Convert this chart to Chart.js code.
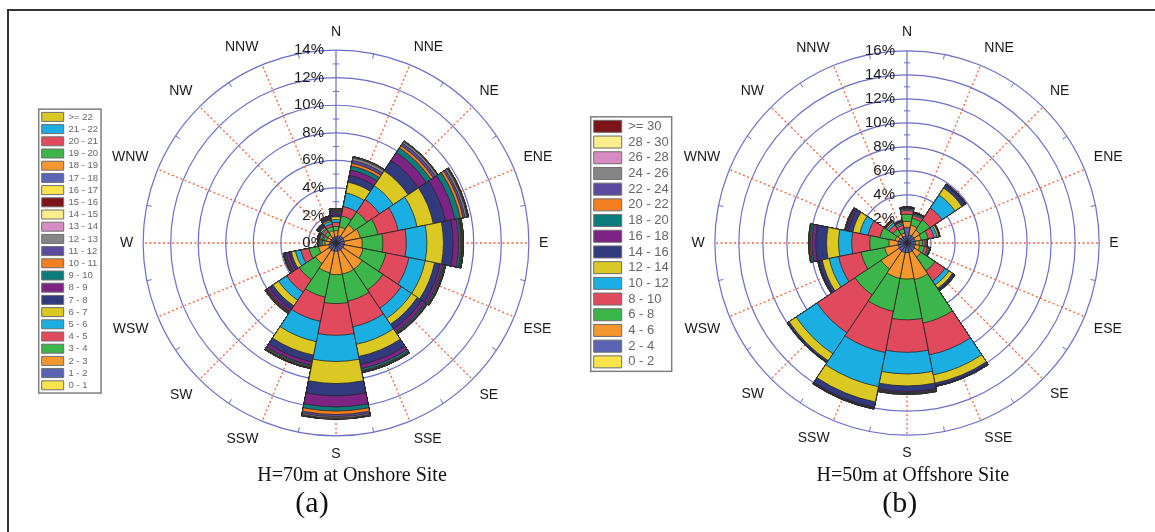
<!DOCTYPE html>
<html>
<head>
<meta charset="utf-8">
<script src="https://cdn.jsdelivr.net/npm/chart.js@4.4.1/dist/chart.umd.min.js"></script>
<style>
  body { margin: 0; background: #fff; }
  #frame { position: absolute; left: 7px; top: 9px; width: 1148px; height: 523px;
           border-top: 2px solid #333; border-left: 2px solid #333; }
  canvas { position: absolute; top: 0; }
  #onshore { left: 0; }
  #offshore { left: 578px; }
</style>
</head>
<body>
<div id="frame"></div>
<canvas id="onshore" width="578" height="532"></canvas>
<canvas id="offshore" width="577" height="532"></canvas>
<script>
// Wind directions (clockwise from north)
var directions = ['N', 'NNE', 'NE', 'ENE', 'E', 'ESE', 'SE', 'SSE', 'S', 'SSW', 'SW', 'WSW', 'W', 'WNW', 'NW', 'NNW'];

// (a) H=70m onshore: frequency (%) of each speed bin, one value per direction
var onshoreBins = ['0 - 1', '1 - 2', '2 - 3', '3 - 4', '4 - 5', '5 - 6', '6 - 7', '7 - 8', '8 - 9', '9 - 10',
  '10 - 11', '11 - 12', '12 - 13', '13 - 14', '14 - 15', '15 - 16', '16 - 17', '17 - 18', '18 - 19',
  '19 - 20', '20 - 21', '21 - 22', '>= 22'];
var onshoreFreq = [
  [0.03, 0.05, 0.05, 0.05, 0.05, 0.05, 0.05, 0.05, 0.05, 0.05, 0.05, 0.04, 0.03, 0.03, 0.03, 0.03],
  [0.42, 0.50, 0.55, 0.55, 0.55, 0.55, 0.55, 0.55, 0.55, 0.55, 0.55, 0.51, 0.42, 0.37, 0.37, 0.42],
  [0.45, 0.65, 1.00, 1.20, 1.30, 1.40, 1.70, 1.70, 1.70, 1.60, 1.20, 0.75, 0.35, 0.30, 0.30, 0.45],
  [0.30, 0.80, 1.10, 1.30, 1.50, 1.70, 1.80, 2.00, 2.10, 1.80, 1.40, 0.70, 0.20, 0.20, 0.30, 0.30],
  [0.30, 0.70, 1.10, 1.50, 1.70, 1.70, 1.60, 1.90, 2.30, 1.80, 1.10, 0.60, 0.10, 0.10, 0.20, 0.20],
  [0.20, 1.00, 1.20, 1.40, 1.50, 1.20, 0.90, 1.30, 1.90, 1.50, 0.70, 0.40, 0.10, 0.10, 0.10, 0.20],
  [0.20, 0.80, 1.30, 1.20, 1.20, 0.70, 0.50, 0.90, 1.60, 1.00, 0.50, 0.30, 0.05, 0.10, 0.10, 0.10],
  [0.15, 0.50, 0.90, 0.90, 0.70, 0.40, 0.40, 0.60, 0.90, 0.50, 0.30, 0.20, 0.02, 0.05, 0.10, 0.10],
  [0.15, 0.40, 0.70, 0.70, 0.40, 0.20, 0.25, 0.30, 0.80, 0.25, 0.20, 0.20, 0.01, 0.05, 0.08, 0.08],
  [0.10, 0.30, 0.40, 0.40, 0.15, 0.10, 0.10, 0.15, 0.30, 0.10, 0.05, 0.08, 0.01, 0.03, 0.04, 0.05],
  [0.05, 0.20, 0.20, 0.20, 0.05, 0.05, 0.05, 0.05, 0.25, 0.07, 0.05, 0.05, 0.01, 0.02, 0.03, 0.03],
  [0.05, 0.20, 0.20, 0.15, 0.05, 0.03, 0.03, 0.05, 0.15, 0.04, 0.03, 0.03, 0.00, 0.02, 0.02, 0.02],
  [0.05, 0.20, 0.15, 0.15, 0.05, 0.02, 0.02, 0.03, 0.10, 0.03, 0.03, 0.02, 0.01, 0.02, 0.02, 0.02],
  [0.02, 0.04, 0.02, 0.04, 0.02, 0.01, 0.01, 0.01, 0.03, 0.01, 0.01, 0.01, 0.00, 0.01, 0.01, 0.01],
  [0.01, 0.02, 0.01, 0.02, 0.01, 0.01, 0.00, 0.01, 0.02, 0.00, 0.01, 0.01, 0.00, 0.00, 0.00, 0.01],
  [0.01, 0.01, 0.01, 0.02, 0.01, 0.00, 0.01, 0.00, 0.02, 0.00, 0.01, 0.00, 0.00, 0.00, 0.00, 0.00],
  [0.01, 0.01, 0.01, 0.01, 0.01, 0.00, 0.00, 0.00, 0.01, 0.00, 0.00, 0.00, 0.00, 0.00, 0.00, 0.00],
  [0.00, 0.01, 0.01, 0.01, 0.00, 0.00, 0.00, 0.00, 0.01, 0.00, 0.00, 0.00, 0.00, 0.00, 0.00, 0.00],
  [0.00, 0.00, 0.00, 0.01, 0.00, 0.00, 0.00, 0.00, 0.00, 0.00, 0.00, 0.00, 0.00, 0.00, 0.00, 0.00],
  [0.00, 0.00, 0.00, 0.00, 0.00, 0.00, 0.00, 0.00, 0.00, 0.00, 0.00, 0.00, 0.00, 0.00, 0.00, 0.00],
  [0.00, 0.00, 0.00, 0.00, 0.00, 0.00, 0.00, 0.00, 0.00, 0.00, 0.00, 0.00, 0.00, 0.00, 0.00, 0.00],
  [0.00, 0.00, 0.00, 0.00, 0.00, 0.00, 0.00, 0.00, 0.00, 0.00, 0.00, 0.00, 0.00, 0.00, 0.00, 0.00],
  [0.00, 0.00, 0.00, 0.00, 0.00, 0.00, 0.00, 0.00, 0.00, 0.00, 0.00, 0.00, 0.00, 0.00, 0.00, 0.00]
];
var onshoreTicks = ['0%', '2%', '4%', '6%', '8%', '10%', '12%', '14%'];

// (b) H=50m offshore
var offshoreBins = ['0 - 2', '2 - 4', '4 - 6', '6 - 8', '8 - 10', '10 - 12', '12 - 14', '14 - 16',
  '16 - 18', '18 - 20', '20 - 22', '22 - 24', '24 - 26', '26 - 28', '28 - 30', '>= 30'];
var offshoreFreq = [
  [0.05, 0.05, 0.05, 0.05, 0.05, 0.05, 0.05, 0.05, 0.05, 0.05, 0.05, 0.05, 0.05, 0.05, 0.05, 0.05],
  [1.25, 0.65, 0.65, 0.65, 0.65, 0.65, 0.70, 0.75, 0.75, 0.75, 0.75, 0.70, 0.70, 0.65, 0.55, 0.55],
  [0.50, 0.80, 0.60, 0.50, 0.30, 0.40, 0.65, 2.30, 2.20, 2.20, 1.80, 1.15, 0.75, 0.30, 0.30, 0.25],
  [0.60, 0.60, 1.00, 0.60, 0.30, 0.40, 1.40, 3.70, 3.40, 2.80, 2.60, 2.00, 1.60, 1.30, 0.50, 0.35],
  [0.30, 0.25, 1.20, 0.50, 0.20, 0.25, 1.00, 2.70, 2.70, 3.50, 3.80, 1.90, 1.50, 1.00, 0.40, 0.30],
  [0.10, 0.10, 1.30, 0.25, 0.10, 0.10, 0.40, 1.70, 1.80, 2.90, 2.10, 0.80, 1.10, 0.70, 0.20, 0.15],
  [0.05, 0.05, 0.70, 0.15, 0.05, 0.07, 0.35, 0.70, 1.00, 1.30, 0.70, 0.60, 1.00, 0.60, 0.12, 0.10],
  [0.05, 0.05, 0.30, 0.05, 0.03, 0.05, 0.17, 0.20, 0.45, 0.45, 0.15, 0.25, 0.90, 0.40, 0.08, 0.07],
  [0.05, 0.05, 0.05, 0.03, 0.02, 0.03, 0.06, 0.05, 0.10, 0.07, 0.03, 0.07, 0.30, 0.15, 0.05, 0.04],
  [0.03, 0.02, 0.03, 0.02, 0.00, 0.00, 0.02, 0.03, 0.07, 0.04, 0.02, 0.04, 0.15, 0.07, 0.03, 0.02],
  [0.02, 0.01, 0.02, 0.00, 0.00, 0.00, 0.00, 0.00, 0.04, 0.02, 0.00, 0.02, 0.07, 0.04, 0.02, 0.02],
  [0.00, 0.00, 0.00, 0.00, 0.00, 0.00, 0.00, 0.00, 0.02, 0.02, 0.00, 0.00, 0.04, 0.02, 0.00, 0.00],
  [0.00, 0.00, 0.00, 0.00, 0.00, 0.00, 0.00, 0.00, 0.02, 0.00, 0.00, 0.00, 0.02, 0.02, 0.00, 0.00],
  [0.00, 0.00, 0.00, 0.00, 0.00, 0.00, 0.00, 0.00, 0.01, 0.00, 0.00, 0.00, 0.01, 0.00, 0.00, 0.00],
  [0.00, 0.00, 0.00, 0.00, 0.00, 0.00, 0.00, 0.00, 0.00, 0.00, 0.00, 0.00, 0.01, 0.00, 0.00, 0.00],
  [0.00, 0.00, 0.00, 0.00, 0.00, 0.00, 0.00, 0.00, 0.00, 0.00, 0.00, 0.00, 0.00, 0.00, 0.00, 0.00]
];
var offshoreTicks = ['0%', '2%', '4%', '6%', '8%', '10%', '12%', '14%', '16%'];

// Palette used by the speed bins (repeats after 16 bins)
var palette = ['#fbe44b', '#5a64b4', '#f5962e', '#3cb64b', '#e14a5c', '#1aaee3', '#dcc822', '#323a7e',
  '#7c2384', '#0b7b7b', '#f47f20', '#5c4aa0', '#858585', '#d98cc4', '#faee8c', '#7d1419'];

var gridBlue = '#6a6fc6';
var dashRed = '#f0643c';
var sansFont = '"Liberation Sans", Arial, sans-serif';
var serifFont = '"Liberation Serif", "Times New Roman", serif';
Chart.defaults.font.family = sansFont;

// stack the bins so each wedge ring ends at the cumulative frequency
function buildDatasets(bins, freq) {
  var running = directions.map(function () { return 0; });
  return bins.map(function (bin, i) {
    running = running.map(function (v, d) { return v + freq[i][d]; });
    return {
      label: bin,
      data: running.slice(),
      backgroundColor: palette[i % palette.length],
      borderColor: '#262626',
      borderWidth: 0.8
    };
  });
}

// dashed direction lines, north axis, outer tick marks and % labels
var roseGrid = {
  id: 'roseGrid',
  beforeDatasetsDraw: function (chart, args, opts) {
    var s = chart.scales.r, ctx = chart.ctx;
    var cx = s.xCenter, cy = s.yCenter, R = s.drawingArea;
    ctx.save();
    directions.forEach(function (d, i) {
      var a = i * Math.PI / 8;
      ctx.beginPath();
      if (i === 0) {
        ctx.setLineDash([]);
        ctx.lineWidth = 1.2;
        ctx.strokeStyle = gridBlue;
      } else {
        ctx.setLineDash([2, 2.5]);
        ctx.lineWidth = 1.3;
        ctx.strokeStyle = dashRed;
      }
      ctx.moveTo(cx, cy);
      ctx.lineTo(cx + Math.sin(a) * R, cy - Math.cos(a) * R);
      ctx.stroke();
      // short mark on the outer ring between two directions
      var b = a + Math.PI / 16;
      ctx.setLineDash([]);
      ctx.lineWidth = 1;
      ctx.strokeStyle = gridBlue;
      ctx.beginPath();
      ctx.moveTo(cx + Math.sin(b) * (R - 5), cy - Math.cos(b) * (R - 5));
      ctx.lineTo(cx + Math.sin(b) * R, cy - Math.cos(b) * R);
      ctx.stroke();
    });
    // minor ticks on the north axis
    ctx.strokeStyle = gridBlue;
    for (var v = 1; v < s.max; v += 2) {
      var y = cy - s.getDistanceFromCenterForValue(v);
      ctx.beginPath();
      ctx.moveTo(cx - 3, y);
      ctx.lineTo(cx + 3, y);
      ctx.stroke();
    }
    ctx.font = '15px ' + sansFont;
    ctx.textAlign = 'right';
    ctx.textBaseline = 'middle';
    ctx.fillStyle = '#1a1a1a';
    opts.ticks.forEach(function (t) {
      var r = s.getDistanceFromCenterForValue(parseFloat(t));
      ctx.fillText(t, cx - 12, cy - r);
    });
    ctx.restore();
  }
};

// thin grey box around the legend entries
var legendFrame = {
  id: 'legendFrame',
  afterDraw: function (chart) {
    var boxes = chart.legend.legendHitBoxes;
    if (!boxes || !boxes.length) return;
    var x0 = Infinity, y0 = Infinity, x1 = -Infinity, y1 = -Infinity;
    boxes.forEach(function (b) {
      x0 = Math.min(x0, b.left); y0 = Math.min(y0, b.top);
      x1 = Math.max(x1, b.left + b.width); y1 = Math.max(y1, b.top + b.height);
    });
    var ctx = chart.ctx;
    ctx.save();
    ctx.strokeStyle = '#7d7d7d';
    ctx.lineWidth = 1.5;
    ctx.strokeRect(x0 - 3, y0 - 3, x1 - x0 + 6, y1 - y0 + 6);
    ctx.restore();
  }
};

// nudge the caption lines sideways (keyed by their text)
var captionShift = {
  id: 'captionShift',
  afterLayout: function (chart, args, opts) {
    chart.boxes.forEach(function (box) {
      var dx = box.options ? opts[box.options.text] : undefined;
      if (typeof dx === 'number') {
        box.left += dx;
        box.right += dx;
      }
    });
  }
};

function makeRose(id, bins, freq, ticks, maxVal, caption, letter, lg, pad, shifts) {
  var ctx = document.getElementById(id).getContext('2d');
  return new Chart(ctx, {
    type: 'polarArea',
    data: { labels: directions, datasets: buildDatasets(bins, freq) },
    plugins: [roseGrid, legendFrame, captionShift],
    options: {
      responsive: false,
      animation: false,
      layout: { padding: pad },
      scales: {
        r: {
          min: 0,
          max: maxVal,
          startAngle: -11.25,
          ticks: { display: false, stepSize: 2 },
          grid: { circular: true, color: gridBlue, lineWidth: 1.2 },
          angleLines: { display: false },
          pointLabels: {
            display: true,
            centerPointLabels: true,
            padding: 10,
            color: '#1a1a1a',
            font: { family: sansFont, size: 14 }
          }
        }
      },
      plugins: {
        tooltip: { enabled: false },
        roseGrid: { ticks: ticks },
        captionShift: shifts,
        legend: {
          position: 'left',
          fullSize: false,
          title: { display: true, text: ' ', padding: lg.shift, font: { size: 1 } },
          labels: {
            boxWidth: lg.boxWidth,
            boxHeight: lg.boxHeight,
            padding: lg.padding,
            color: '#111',
            font: { family: sansFont, size: lg.fontSize },
            generateLabels: function (chart) {
              return chart.data.datasets.map(function (ds, i) {
                return { text: ds.label, fillStyle: ds.backgroundColor, strokeStyle: '#6e6e6e',
                  lineWidth: 1, hidden: false, datasetIndex: i };
              }).reverse();
            }
          }
        },
        subtitle: {
          display: true,
          position: 'bottom',
          fullSize: false,
          text: caption,
          color: '#111',
          font: { family: serifFont, size: 20 },
          padding: 0
        },
        title: {
          display: true,
          position: 'bottom',
          fullSize: false,
          text: letter,
          color: '#111',
          font: { family: serifFont, size: 30, weight: 'normal', lineHeight: 1.1 },
          padding: 0
        }
      }
    }
  });
}

var onshoreShift = { 'H=70m at Onshore Site': 20, '(a)': -20 };
var offshoreShift = { 'H=50m at Offshore Site': 10, '(b)': -3 };

makeRose('onshore', onshoreBins, onshoreFreq, onshoreTicks, 14, 'H=70m at Onshore Site', '(a)',
  { boxWidth: 22, boxHeight: 9, padding: 2.7, fontSize: 9.5, shift: 7 },
  { left: 39, right: 22, top: 23, bottom: 11 }, onshoreShift);
makeRose('offshore', offshoreBins, offshoreFreq, offshoreTicks, 16, 'H=50m at Offshore Site', '(b)',
  { boxWidth: 28, boxHeight: 12, padding: 2.7, fontSize: 13, shift: 0 },
  { left: 13, right: 28, top: 23, bottom: 11 }, offshoreShift);
</script>
</body>
</html>
